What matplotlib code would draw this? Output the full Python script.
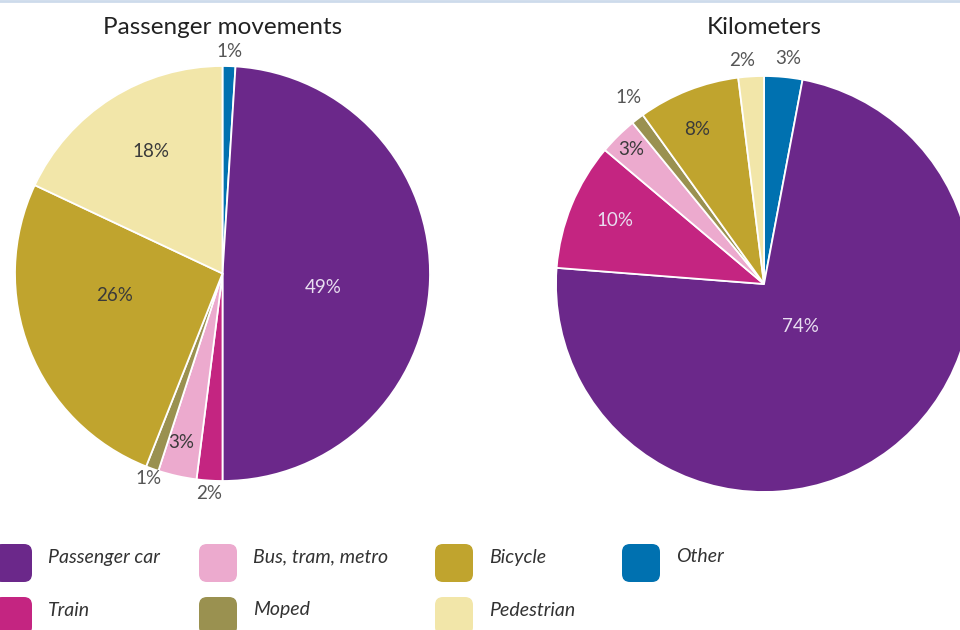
import numpy as np
import matplotlib.pyplot as plt
from matplotlib.patches import FancyBboxPatch

# categories in pie order (clockwise from 12 o'clock)
categories = ["Other", "Passenger car", "Train", "Bus, tram, metro", "Moped", "Bicycle", "Pedestrian"]
colors = ["#0071b0", "#6b288a", "#c42581", "#ecaace", "#9a9150", "#c0a42e", "#f2e6a9"]

movements = [1, 49, 2, 3, 1, 26, 18]
kilometers = [3, 74, 10, 3, 1, 8, 2]

legend_order = ["Passenger car", "Train", "Bus, tram, metro", "Moped", "Bicycle", "Pedestrian", "Other"]

plt.rcParams['font.family'] = ['Lato', 'DejaVu Sans']

H = 630
fig = plt.figure(figsize=(9.6, 6.3), dpi=100)
ax = fig.add_axes([0, 0, 1, 1])

light = "#e8def0"
dark = "#3a3a3a"
grey = "#555555"

def draw_pie(values, cx, cy, r, title, radii, nudges, tcolors):
    wedges, _ = ax.pie(values, colors=colors, startangle=90, counterclock=False,
                       center=(cx, H - cy), radius=r,
                       wedgeprops=dict(edgecolor="white", linewidth=1.3))
    for w, v, rf, dn, tc in zip(wedges, values, radii, nudges, tcolors):
        ang = np.deg2rad((w.theta1 + w.theta2) / 2 + dn)
        ax.text(cx + rf * r * np.cos(ang), H - cy + rf * r * np.sin(ang), f"{v}%",
                ha="center", va="center", fontsize=13.5, color=tc)
    ax.text(cx, H - 27, title, ha="center", va="center", fontsize=17.5, color="#222222")

draw_pie(movements, 222.5, 273.5, 207.5, "Passenger movements",
         [1.07, 0.49, 1.06, 0.84, 1.05, 0.53, 0.68],
         [0, -6, 0, -1, 0, -10, -2],
         [grey, light, grey, dark, grey, dark, dark])

draw_pie(kilometers, 764, 284, 208, "Kilometers",
         [1.09, 0.27, 0.78, 0.91, 1.11, 0.81, 1.08],
         [-0.7, 3.6, -0.8, 0, -1.4, 2, 2],
         [grey, light, light, dark, grey, dark, grey])

# legend with rounded squares, column-major
col_x = [-6, 199, 435, 622]
row_y = [563, 616]
for i, name in enumerate(legend_order):
    c, rw = divmod(i, 2)
    x0, yc = col_x[c], row_y[rw]
    col = colors[categories.index(name)]
    ax.add_patch(FancyBboxPatch((x0 + 5, H - yc - 14), 28, 28,
                                boxstyle="round,pad=5,rounding_size=8",
                                fc=col, ec="none", clip_on=False))
    ax.text(x0 + 38 + 16, H - yc + 6, name, ha="left", va="center",
            fontsize=14, style="italic", color="#333333")

# thin line at the top
ax.plot([0, 960], [H - 1, H - 1], color="#cddbeb", lw=2)

ax.set_xlim(0, 960)
ax.set_ylim(0, H)
ax.set_aspect("equal")
ax.axis("off")

fig.savefig("out.png", dpi=100)
